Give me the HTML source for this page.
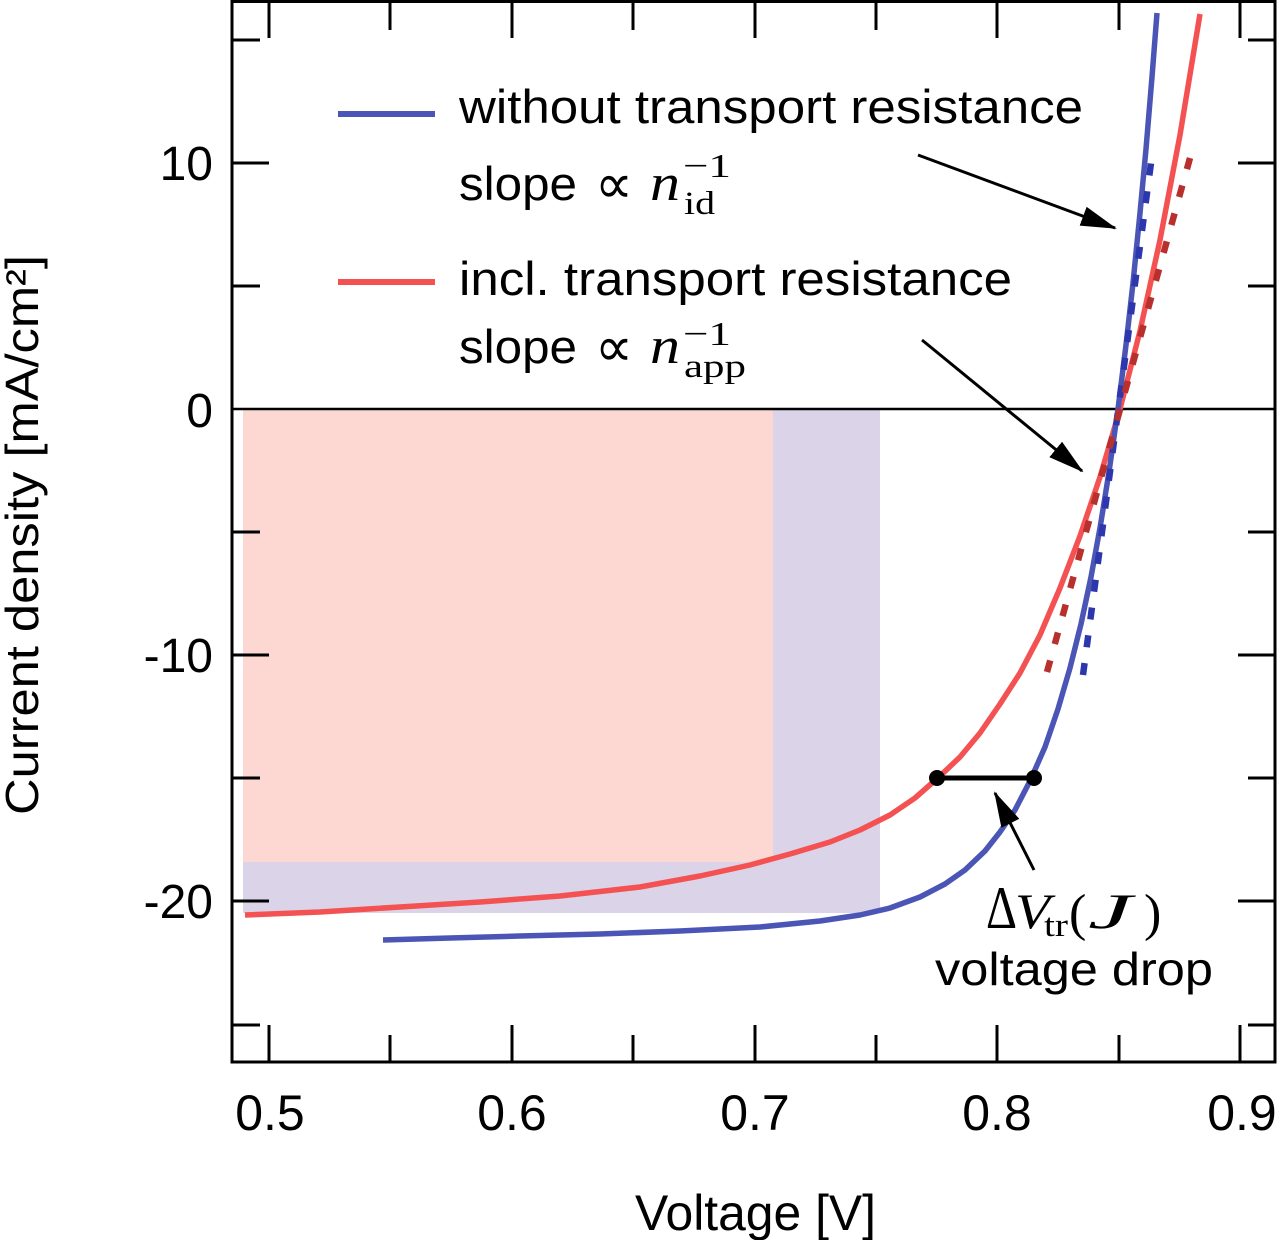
<!DOCTYPE html>
<html><head><meta charset="utf-8"><style>
html,body{margin:0;padding:0;background:#fff;}
svg{display:block;}
.s{font-family:"Liberation Sans",sans-serif;fill:#000;}
.m{font-family:"Liberation Serif",serif;fill:#000;}
.d{font-family:"DejaVu Sans","Liberation Serif",serif;fill:#000;}
</style></head><body>
<svg width="1280" height="1240" viewBox="0 0 1280 1240" xmlns="http://www.w3.org/2000/svg">
<defs>
<marker id="ah" viewBox="0 0 36 20" refX="34" refY="10" markerWidth="36" markerHeight="20" markerUnits="userSpaceOnUse" orient="auto">
<path d="M0,0 L36,10 L0,20 Z" fill="#000"/>
</marker>
</defs>
<rect x="0" y="0" width="1280" height="1240" fill="#fff"/>
<!-- fills -->
<rect x="243" y="410" width="637" height="503" fill="#dbd3e8"/>
<rect x="243" y="410" width="530" height="452" fill="#fdd8d2"/>
<!-- zero line -->
<line x1="232" y1="409" x2="1275" y2="409" stroke="#000" stroke-width="2.5"/>
<!-- red curve -->
<polyline fill="none" stroke="#f45252" stroke-width="5.5" stroke-linejoin="round" points="245,915 320,912 400,907 480,902 560,896 640,887 700,876 750,865 790,854 830,842 860,830 890,815 915,798 940,776 960,757 980,733 1000,704 1020,673 1040,635 1060,588 1080,536 1100,477 1120,409 1140,331 1160,240 1180,135 1200,14"/>
<!-- blue curve -->
<polyline fill="none" stroke="#4b55b6" stroke-width="5.5" stroke-linejoin="round" points="383,940 450,938 520,936 600,934 680,931 760,927 820,921 860,915 890,908 920,897 945,884 965,870 985,851 1000,832 1015,810 1030,781 1045,747 1058,709 1070,668 1081,624 1091,577 1100,528 1109,472 1118,409 1126,345 1133,283 1140,213 1146,149 1152,77 1157,13"/>
<!-- dashed tangents -->
<line x1="1083" y1="675" x2="1153" y2="148" stroke="#2c36ad" stroke-width="6.5" stroke-dasharray="12 16"/>
<line x1="1047" y1="672" x2="1190" y2="158" stroke="#b8302e" stroke-width="6.5" stroke-dasharray="12 17"/>
<!-- voltage drop bar -->
<line x1="937" y1="778" x2="1034" y2="778" stroke="#000" stroke-width="5"/>
<circle cx="937" cy="778" r="8" fill="#000"/>
<circle cx="1034" cy="778" r="8" fill="#000"/>
<!-- arrows -->
<line x1="918" y1="155" x2="1115" y2="228" stroke="#000" stroke-width="3" marker-end="url(#ah)"/>
<line x1="922" y1="340" x2="1082" y2="471" stroke="#000" stroke-width="3" marker-end="url(#ah)"/>
<line x1="1034" y1="870" x2="995" y2="793" stroke="#000" stroke-width="3" marker-end="url(#ah)"/>
<!-- frame -->
<rect x="232" y="1.5" width="1043" height="1060.5" fill="none" stroke="#000" stroke-width="3"/>
<!-- ticks -->
<g stroke="#000" stroke-width="3">
<line x1="269" y1="1062" x2="269" y2="1025"/>
<line x1="512" y1="1062" x2="512" y2="1025"/>
<line x1="755" y1="1062" x2="755" y2="1025"/>
<line x1="997" y1="1062" x2="997" y2="1025"/>
<line x1="1240" y1="1062" x2="1240" y2="1025"/>
<line x1="390" y1="1062" x2="390" y2="1035"/>
<line x1="633" y1="1062" x2="633" y2="1035"/>
<line x1="876" y1="1062" x2="876" y2="1035"/>
<line x1="1119" y1="1062" x2="1119" y2="1035"/>
<line x1="269" y1="1" x2="269" y2="38"/>
<line x1="512" y1="1" x2="512" y2="38"/>
<line x1="755" y1="1" x2="755" y2="38"/>
<line x1="997" y1="1" x2="997" y2="38"/>
<line x1="1240" y1="1" x2="1240" y2="38"/>
<line x1="390" y1="1" x2="390" y2="30"/>
<line x1="633" y1="1" x2="633" y2="30"/>
<line x1="876" y1="1" x2="876" y2="30"/>
<line x1="1119" y1="1" x2="1119" y2="30"/>
<line x1="232" y1="163" x2="269" y2="163"/>
<line x1="232" y1="655" x2="269" y2="655"/>
<line x1="232" y1="901" x2="269" y2="901"/>
<line x1="232" y1="40" x2="260" y2="40"/>
<line x1="232" y1="286" x2="260" y2="286"/>
<line x1="232" y1="532" x2="260" y2="532"/>
<line x1="232" y1="778" x2="260" y2="778"/>
<line x1="232" y1="1025" x2="260" y2="1025"/>
<line x1="1275" y1="163" x2="1238" y2="163"/>
<line x1="1275" y1="655" x2="1238" y2="655"/>
<line x1="1275" y1="901" x2="1238" y2="901"/>
<line x1="1275" y1="40" x2="1248" y2="40"/>
<line x1="1275" y1="286" x2="1248" y2="286"/>
<line x1="1275" y1="532" x2="1248" y2="532"/>
<line x1="1275" y1="778" x2="1248" y2="778"/>
<line x1="1275" y1="1025" x2="1248" y2="1025"/>
</g>
<!-- legend -->
<line x1="338" y1="114" x2="435" y2="114" stroke="#4b55b6" stroke-width="6"/>
<line x1="338" y1="282" x2="435" y2="282" stroke="#f45252" stroke-width="6"/>
<text class="s" x="459" y="123" font-size="47" textLength="624" lengthAdjust="spacingAndGlyphs">without transport resistance</text>
<text class="s" x="459" y="200" font-size="47" textLength="118" lengthAdjust="spacingAndGlyphs">slope</text>
<text class="d" x="595" y="203" font-size="56" textLength="38" lengthAdjust="spacingAndGlyphs">∝</text>
<text class="m" x="650" y="200" font-size="52" font-style="italic" textLength="30" lengthAdjust="spacingAndGlyphs">n</text>
<text class="m" x="683" y="177" font-size="34" textLength="48" lengthAdjust="spacingAndGlyphs">−1</text>
<text class="m" x="684" y="214" font-size="33" textLength="31" lengthAdjust="spacingAndGlyphs">id</text>
<text class="s" x="459" y="295" font-size="47" textLength="553" lengthAdjust="spacingAndGlyphs">incl. transport resistance</text>
<text class="s" x="459" y="363" font-size="47" textLength="118" lengthAdjust="spacingAndGlyphs">slope</text>
<text class="d" x="595" y="366" font-size="56" textLength="38" lengthAdjust="spacingAndGlyphs">∝</text>
<text class="m" x="650" y="363" font-size="52" font-style="italic" textLength="30" lengthAdjust="spacingAndGlyphs">n</text>
<text class="m" x="683" y="345" font-size="34" textLength="48" lengthAdjust="spacingAndGlyphs">−1</text>
<text class="m" x="684" y="377" font-size="33" textLength="62" lengthAdjust="spacingAndGlyphs">app</text>
<!-- delta V annotation -->
<text class="m" x="986" y="928" font-size="60" textLength="31" lengthAdjust="spacingAndGlyphs">Δ</text>
<text class="m" x="1015" y="928" font-size="50" font-style="italic" textLength="35" lengthAdjust="spacingAndGlyphs">V</text>
<text class="m" x="1044" y="936" font-size="33" textLength="24" lengthAdjust="spacingAndGlyphs">tr</text>
<text class="m" x="1069" y="930" font-size="52">(</text>
<text class="m" x="1088" y="928" font-size="50" font-style="italic" textLength="44" lengthAdjust="spacingAndGlyphs">J</text>
<text class="m" x="1144" y="930" font-size="52">)</text>
<text class="s" x="935" y="985" font-size="46" textLength="278" lengthAdjust="spacingAndGlyphs">voltage drop</text>
<!-- y tick labels -->
<g class="s" font-size="48" text-anchor="end">
<text x="213" y="180">10</text>
<text x="213" y="427">0</text>
<text x="213" y="672">-10</text>
<text x="213" y="918">-20</text>
</g>
<!-- x tick labels -->
<g class="s" font-size="50" text-anchor="middle">
<text x="270" y="1130">0.5</text>
<text x="512" y="1130">0.6</text>
<text x="755" y="1130">0.7</text>
<text x="997" y="1130">0.8</text>
<text x="1242" y="1130">0.9</text>
</g>
<!-- axis labels -->
<text class="s" x="635" y="1230" font-size="50" textLength="241" lengthAdjust="spacingAndGlyphs">Voltage [V]</text>
<text class="s" transform="translate(38,815) rotate(-90)" x="0" y="0" font-size="46" textLength="560" lengthAdjust="spacingAndGlyphs">Current density [mA/cm²]</text>
</svg>
</body></html>
